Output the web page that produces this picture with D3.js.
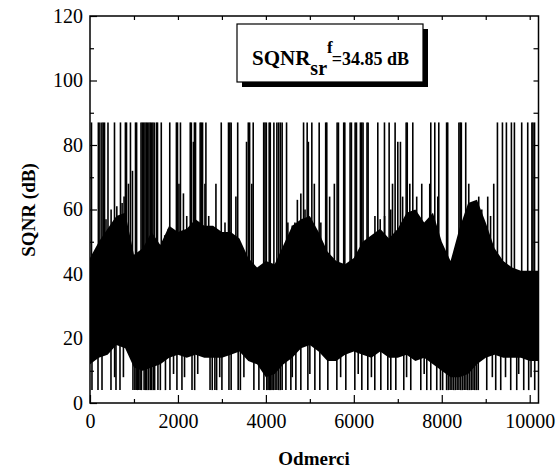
<!DOCTYPE html>
<meta charset="utf-8">
<style>
  body { margin: 0; background: #fff; }
  text { font-family: "Liberation Serif", "Times New Roman", serif; }
  .axis text { font-size: 20px; fill: #000; }
  .axis line { stroke: #000; stroke-width: 1.2px; }
  .axis path { display: none; }
  .title { font-size: 19px; font-weight: bold; }
</style>
<svg width="559" height="470"></svg>
<script src="https://cdn.jsdelivr.net/npm/d3@7/dist/d3.min.js"></script>
<script>
// upper / lower edge of the dense band, one value per 200 samples (0..10200)
const coreTop = [45, 50, 54, 58, 59, 46, 48, 53, 49, 55, 53, 54, 57, 55, 55, 53, 53, 51, 45, 42,
  44, 43, 49, 55, 57, 58, 53, 47, 44, 43, 45, 50, 52, 54, 51, 54, 59, 60, 56, 59,
  50, 44, 54, 62, 63, 56, 48, 44, 42, 41, 41, 41];
const coreLow = [12, 14, 15, 18, 17, 11, 10, 11, 12, 14, 15, 14, 15, 14, 14, 14, 15, 16, 13, 12,
  8, 9, 12, 14, 17, 18, 16, 13, 13, 15, 16, 15, 14, 16, 14, 14, 15, 13, 14, 12,
  10, 8, 8, 9, 12, 14, 15, 14, 14, 14, 13, 13];

// samples where SQNR hits the 87 dB ceiling
const topSpikes = [34, 190, 225, 270, 300, 330, 409, 557, 693, 805, 830, 920, 1035, 1060,
  1160, 1190, 1220, 1250, 1280, 1310, 1340, 1370, 1400, 1430, 1460, 1510, 1535, 1621, 1814,
  1965, 1990, 2057, 2280, 2305, 2375, 2400, 2505, 2530, 2560, 2636, 2985, 3150, 3180, 3210, 3359,
  3600, 3630, 3712, 3950, 3980, 4010, 4075, 4100, 4182, 4250, 4290, 4330, 4370, 4470, 4857,
  4939, 5045, 5212, 5360, 5385, 5620, 5650, 5770, 5795, 5915, 5945, 6030, 6060, 6150, 6180,
  6210, 6300, 6325, 6545, 6697, 6803, 6939, 7190, 7215, 7341, 7750, 7841, 7932, 8110, 8135,
  8390, 8420, 8445, 8545, 9266, 9380, 9470, 9584, 9652, 9818, 9955, 10050, 10075, 10110];

// peaks that stop below the ceiling: [sample, dB]
const midSpikes = [[364, 57], [480, 60], [610, 61], [730, 62], [775, 64], [875, 68], [966, 72],
  [1700, 52], [1780, 54], [1930, 52], [2023, 68], [2125, 65], [2200, 58], [2352, 81],
  [2614, 68], [2700, 58], [2864, 68], [3070, 56], [3318, 64], [3560, 81], [3680, 68],
  [4500, 56], [4600, 55], [4660, 56], [4716, 63], [4795, 65], [4890, 60], [4966, 81],
  [5102, 68], [5250, 56], [5450, 64], [5557, 68], [6480, 58], [6600, 57], [6700, 58],
  [6840, 60], [6880, 68], [7000, 81], [7060, 81], [7110, 64], [7273, 68], [7430, 64],
  [7545, 68], [7727, 68], [7910, 64], [8614, 68], [8700, 61], [8841, 64], [8910, 60],
  [9045, 64], [9110, 58], [9182, 68]];

// dips that stop above the floor: [sample, dB]
const dipSpikes = [[560, 8], [760, 8], [1900, 9], [2150, 8], [2450, 9], [2950, 8], [3500, 8],
  [4600, 8], [5000, 9], [5700, 8], [6100, 9], [6400, 8], [7200, 8], [7600, 9], [9150, 8],
  [9450, 8], [9750, 9], [10030, 8]];

// samples where SQNR drops to the 4 dB floor
const lowSpikes = [45, 182, 273, 477, 591, 682, 977, 1020, 1050, 1080, 1110, 1140, 1170,
  1230, 1260, 1290, 1330, 1370, 1400, 1440, 1470, 1545, 1600, 1716, 1818, 1977, 2091, 2320,
  2380, 2730, 2780, 2840, 2880, 3000, 3160, 3210, 3370, 3420, 3727, 3841, 3955, 4020, 4050,
  4080, 4110, 4140, 4170, 4210, 4250, 4290, 4330, 4370, 4455, 4568, 4682, 4795, 4955, 5114,
  5227, 5409, 5614, 5818, 6023, 6182, 6318, 6477, 6614, 6773, 6841, 6955, 7136, 7295, 7523,
  7659, 7750, 7886, 7970, 8020, 8110, 8150, 8190, 8230, 8270, 8310, 8350, 8390, 8430, 8470,
  8510, 8550, 8590, 8630, 8670, 8710, 8750, 8790, 8830, 9023, 9227, 9341, 9568, 9705, 9864,
  9977, 10114];

const ceiling = 87, floor = 4, binSize = 200;
const xTicks = [0, 2000, 4000, 6000, 8000, 10000];
const yTicks = [0, 20, 40, 60, 80, 100, 120];

var svg = d3.select("svg");

var x = d3.scaleLinear().domain([0, 10200]).range([90, 538.5]);
var y = d3.scaleLinear().domain([0, 120]).range([403, 16]);

var core = coreTop.map(function(t, i) {
  return {s: i * binSize, hi: t, lo: coreLow[i]};
});

var plot = svg.append("g");

// spikes first, dense band on top
var spikes = topSpikes.map(function(s) { return {s: s, to: ceiling}; })
  .concat(midSpikes.map(function(d) { return {s: d[0], to: d[1]}; }))
  .concat(dipSpikes.map(function(d) { return {s: d[0], to: d[1]}; }))
  .concat(lowSpikes.map(function(s) { return {s: s, to: floor}; }));

plot.selectAll("line.spike")
  .data(spikes)
  .enter().append("line")
    .attr("class", "spike")
    .attr("x1", function(d) { return x(d.s); })
    .attr("x2", function(d) { return x(d.s); })
    .attr("y1", y(30))
    .attr("y2", function(d) { return y(d.to); })
    .attr("stroke", "#000")
    .attr("stroke-width", 1.6);

var area = d3.area()
    .x(function(d) { return x(d.s); })
    .y0(function(d) { return y(d.lo); })
    .y1(function(d) { return y(d.hi); })
    .curve(d3.curveLinear);

plot.append("path")
    .datum(core)
    .attr("d", area)
    .attr("fill", "#000");

// axes, ticks pointing inwards on all four sides
svg.append("g")
    .attr("class", "axis")
    .attr("transform", "translate(0,403)")
    .call(d3.axisBottom(x).tickValues(xTicks).tickSize(-8).tickPadding(11).tickFormat(d3.format("d")));
svg.append("g")
    .attr("class", "axis")
    .attr("transform", "translate(0,403)")
    .call(d3.axisBottom(x).tickValues([1000, 3000, 5000, 7000, 9000]).tickSize(-4).tickFormat(""));
svg.append("g")
    .attr("class", "axis")
    .attr("transform", "translate(0,16)")
    .call(d3.axisTop(x).tickValues(d3.range(1000, 10001, 1000)).tickSize(-4).tickFormat(""));

svg.append("g")
    .attr("class", "axis")
    .attr("transform", "translate(90,0)")
    .call(d3.axisLeft(y).tickValues(yTicks).tickSize(-7).tickPadding(7));
svg.append("g")
    .attr("class", "axis")
    .attr("transform", "translate(90,0)")
    .call(d3.axisLeft(y).tickValues([10, 30, 50, 70, 90, 110]).tickSize(-4).tickFormat(""));
svg.append("g")
    .attr("class", "axis")
    .attr("transform", "translate(538.5,0)")
    .call(d3.axisRight(y).tickValues(d3.range(10, 120, 10)).tickSize(-5).tickFormat(""));

svg.append("rect")
    .attr("x", 90).attr("y", 16)
    .attr("width", 448.5).attr("height", 387)
    .attr("fill", "none")
    .attr("stroke", "#000")
    .attr("stroke-width", 1.5);

svg.append("text")
    .attr("class", "title")
    .attr("x", 314).attr("y", 465)
    .attr("text-anchor", "middle")
    .text("Odmerci");

svg.append("text")
    .attr("class", "title")
    .attr("transform", "translate(35,210) rotate(-90)")
    .attr("text-anchor", "middle")
    .text("SQNR (dB)");

// annotation box with drop shadow
svg.append("rect")
    .attr("x", 242).attr("y", 29)
    .attr("width", 186).attr("height", 58)
    .attr("fill", "#000");
svg.append("rect")
    .attr("x", 237).attr("y", 24)
    .attr("width", 186).attr("height", 58)
    .attr("fill", "#fff")
    .attr("stroke", "#000")
    .attr("stroke-width", 1.2);

var label = svg.append("text")
    .attr("x", 252).attr("y", 65)
    .attr("font-weight", "bold")
    .attr("font-size", 21);
label.append("tspan").text("SQNR");
label.append("tspan").attr("dy", 10).attr("font-size", 20).text("sr");
label.append("tspan").attr("dy", -22).attr("font-size", 17).text("f");
label.append("tspan").attr("dy", 12).attr("font-size", 18).attr("dx", -1).text("=34.85 dB");
</script>
